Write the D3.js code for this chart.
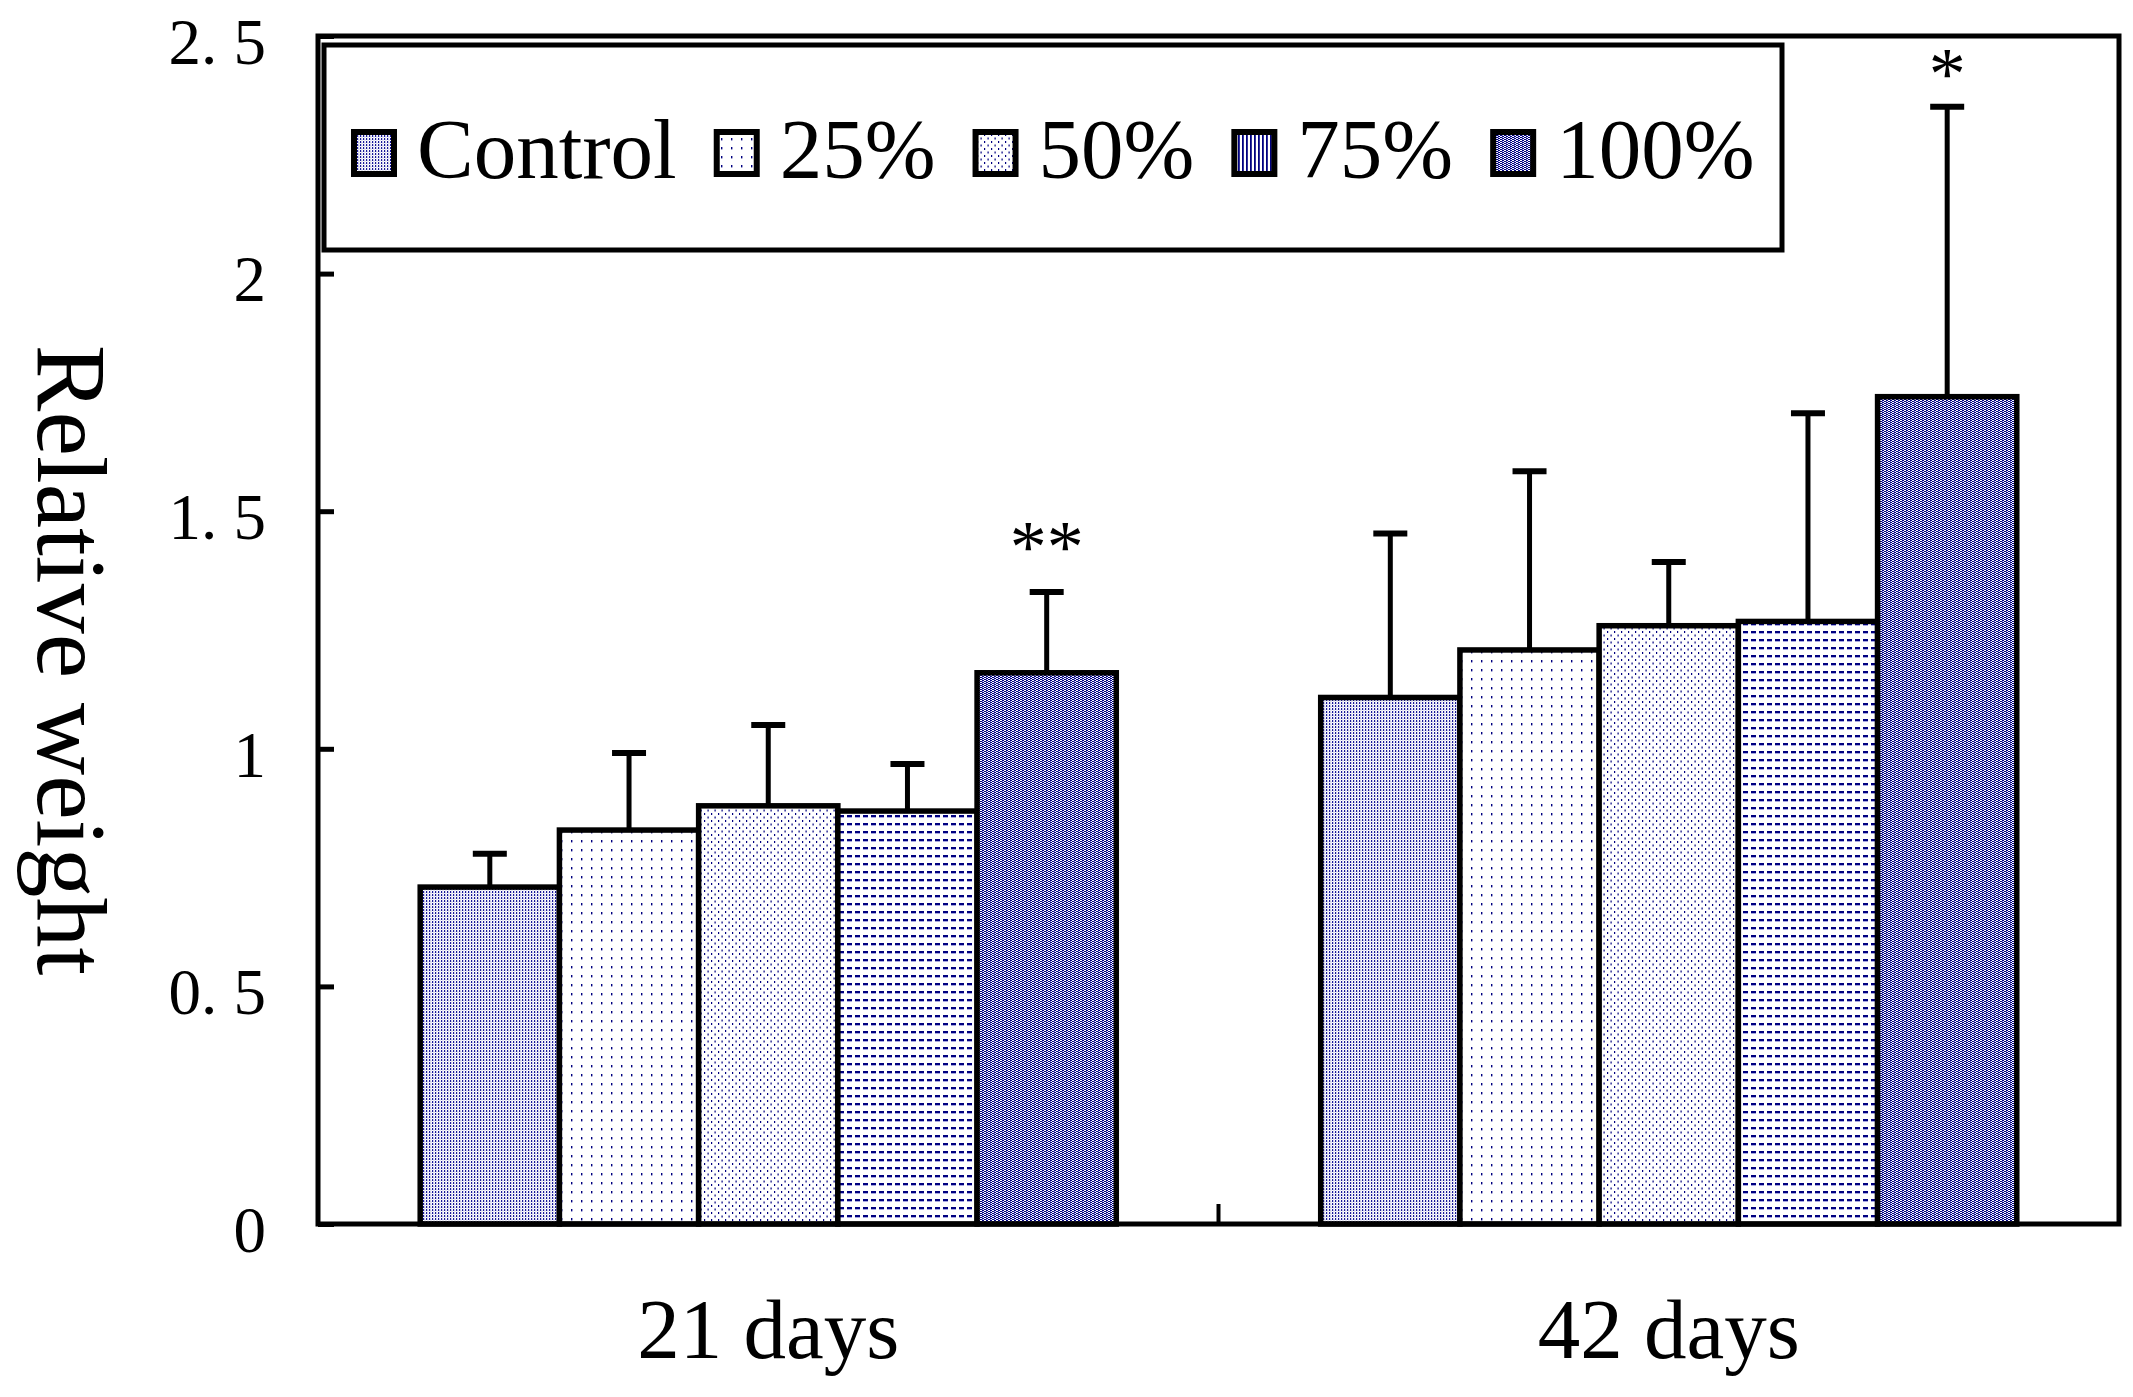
<!DOCTYPE html>
<html>
<head>
<meta charset="utf-8">
<script src="https://cdn.jsdelivr.net/npm/d3@7"></script>
<style>
  body { margin: 0; background: #fff; }
  svg text { font-family: "Liberation Serif", "DejaVu Serif", serif; fill: #000; }
</style>
</head>
<body>
<svg id="chart" width="2133" height="1397"></svg>
<script>
// values
const groups = ["21 days", "42 days"];
const series = ["Control", "25%", "50%", "75%", "100%"];
const means21 = [0.709, 0.829, 0.880, 0.869, 1.160];
const errs21  = [0.070, 0.162, 0.170, 0.099, 0.170];
const means42 = [1.108, 1.208, 1.259, 1.268, 1.741];
const errs42  = [0.345, 0.376, 0.134, 0.438, 0.610];
const stars21 = ["", "", "", "", "**"];
const stars42 = ["", "", "", "", "*"];
const yTicks = [0, 0.5, 1, 1.5, 2, 2.5];
const yTickLabels = ["0", "0. 5", "1", "1. 5", "2", "2. 5"];

const margin = {left: 318, right: 14, top: 36, bottom: 173};
const width = 2133, height = 1397;
const plotW = width - margin.left - margin.right;
const plotH = height - margin.top - margin.bottom;

const svg = d3.select("#chart");
const g = svg.append("g").attr("transform", `translate(${margin.left},${margin.top})`);

// fill patterns (navy dither on white)
const defs = svg.append("defs");
const navy = "#000080";
function pattern(id, w, h, rects) {
  let p = defs.append("pattern").attr("id", id)
    .attr("patternUnits", "userSpaceOnUse").attr("width", w).attr("height", h);
  p.append("rect").attr("width", w).attr("height", h).attr("fill", "#fff");
  rects.forEach(function(r) {
    p.append("rect").attr("x", r[0]).attr("y", r[1]).attr("width", r[2]).attr("height", r[3])
      .attr("fill", r[4] || navy);
  });
}
pattern("pControl", 3, 3, [[0, 0, 1.2, 2, "#1a1a99"], [1.5, 1.5, 1, 1, "#9a9ad0"]]);
pattern("p25", 10, 9, [[3, 3, 1.4, 2.4]]);
pattern("p50", 7, 7, [[1, 0, 1.2, 2], [4.5, 3.5, 1.2, 2]]);
pattern("p75", 8, 8, [[1, 3, 5, 2.2], [1, 5.2, 5, 0.8, "#a0a0e0"]]);
pattern("p75v", 4, 8, [[0, 0, 1.8, 8]]);
pattern("p100", 4, 2, [[0, 0, 2, 1], [2, 1, 2, 1], [0, 1, 1, 1, "#8c8cd0"]]);
const fills = ["url(#pControl)", "url(#p25)", "url(#p50)", "url(#p75)", "url(#p100)"];
const legendFills = ["url(#pControl)", "url(#p25)", "url(#p50)", "url(#p75v)", "url(#p100)"];

let data = [];
groups.forEach(function(grp, gi) {
  let m = gi === 0 ? means21 : means42;
  let e = gi === 0 ? errs21 : errs42;
  let s = gi === 0 ? stars21 : stars42;
  series.forEach(function(name, si) {
    data.push({group: grp, series: name, si: si, mean: m[si], err: e[si], star: s[si]});
  });
});

let x0 = d3.scaleBand().domain(groups).range([0, plotW])
  .paddingInner(0.227).paddingOuter(0.1135);
let x1 = d3.scaleBand().domain(series).range([0, x0.bandwidth()]).padding(0);
let y = d3.scaleLinear().domain([0, 2.5]).range([plotH, 0]);

// y axis with inward ticks
let yAxis = g.append("g")
  .call(d3.axisLeft(y).tickValues(yTicks)
    .tickFormat(function(d, i) { return yTickLabels[i]; })
    .tickSizeInner(-16).tickSizeOuter(0).tickPadding(52));
yAxis.select(".domain").remove();
yAxis.selectAll(".tick line").attr("stroke", "#000").attr("stroke-width", 5);
yAxis.selectAll(".tick text").style("font-size", "65px").attr("dy", "0.42em");

// x axis labels
let xAxis = g.append("g")
  .attr("transform", `translate(0,${plotH})`)
  .call(d3.axisBottom(x0).tickSize(0).tickPadding(74));
xAxis.select(".domain").remove();
xAxis.selectAll(".tick text").style("font-size", "85px");

// separator tick between groups
let sepX = x0(groups[1]) - x0.step() * x0.paddingInner() / 2;
g.append("line")
  .attr("x1", sepX).attr("x2", sepX).attr("y1", plotH).attr("y2", plotH - 20)
  .attr("stroke", "#000").attr("stroke-width", 4);

// bars
g.selectAll("rect.bar").data(data).enter()
  .append("rect")
  .attr("class", "bar")
  .attr("x", function(d) { return x0(d.group) + x1(d.series); })
  .attr("y", function(d) { return y(d.mean); })
  .attr("width", x1.bandwidth())
  .attr("height", function(d) { return plotH - y(d.mean); })
  .attr("fill", function(d) { return fills[d.si]; })
  .attr("stroke", "#000")
  .attr("stroke-width", 5.5);

// error bars (upper only)
let capW = 34;
let eb = g.selectAll("g.err").data(data).enter().append("g").attr("class", "err");
eb.append("line")
  .attr("x1", function(d) { return x0(d.group) + x1(d.series) + x1.bandwidth() / 2; })
  .attr("x2", function(d) { return x0(d.group) + x1(d.series) + x1.bandwidth() / 2; })
  .attr("y1", function(d) { return y(d.mean); })
  .attr("y2", function(d) { return y(d.mean + d.err); })
  .attr("stroke", "#000").attr("stroke-width", 5);
eb.append("line")
  .attr("x1", function(d) { return x0(d.group) + x1(d.series) + x1.bandwidth() / 2 - capW / 2; })
  .attr("x2", function(d) { return x0(d.group) + x1(d.series) + x1.bandwidth() / 2 + capW / 2; })
  .attr("y1", function(d) { return y(d.mean + d.err); })
  .attr("y2", function(d) { return y(d.mean + d.err); })
  .attr("stroke", "#000").attr("stroke-width", 6);

// significance marks
g.selectAll("text.star").data(data.filter(function(d) { return d.star; })).enter()
  .append("text")
  .attr("class", "star")
  .attr("x", function(d) { return x0(d.group) + x1(d.series) + x1.bandwidth() / 2; })
  .attr("y", function(d) { return y(d.mean + d.err) + (d.star.length > 1 ? -20 : -8); })
  .style("font-size", "74px")
  .style("text-anchor", "middle")
  .text(function(d) { return d.star; });

// plot frame
g.append("rect")
  .attr("x", 0).attr("y", 0).attr("width", plotW).attr("height", plotH)
  .attr("fill", "none").attr("stroke", "#000").attr("stroke-width", 5);

// legend
let legend = g.append("g");
legend.append("rect")
  .attr("x", 6).attr("y", 9).attr("width", 1458).attr("height", 205)
  .attr("fill", "#fff").attr("stroke", "#000").attr("stroke-width", 5);
let lx = 36;
series.forEach(function(name, i) {
  legend.append("rect")
    .attr("x", lx).attr("y", 96).attr("width", 40).attr("height", 42)
    .attr("fill", legendFills[i]).attr("stroke", "#000").attr("stroke-width", 6);
  let t = legend.append("text")
    .attr("x", lx + 63).attr("y", 142)
    .style("font-size", "85px")
    .text(name);
  lx = lx + 63 + t.node().getComputedTextLength() + 40;
});

// y axis title
svg.append("text")
  .attr("transform", `translate(38, ${margin.top + plotH / 2 + 30}) rotate(90)`)
  .style("text-anchor", "middle")
  .style("font-size", "100px")
  .text("Relative weight");
</script>
</body>
</html>
